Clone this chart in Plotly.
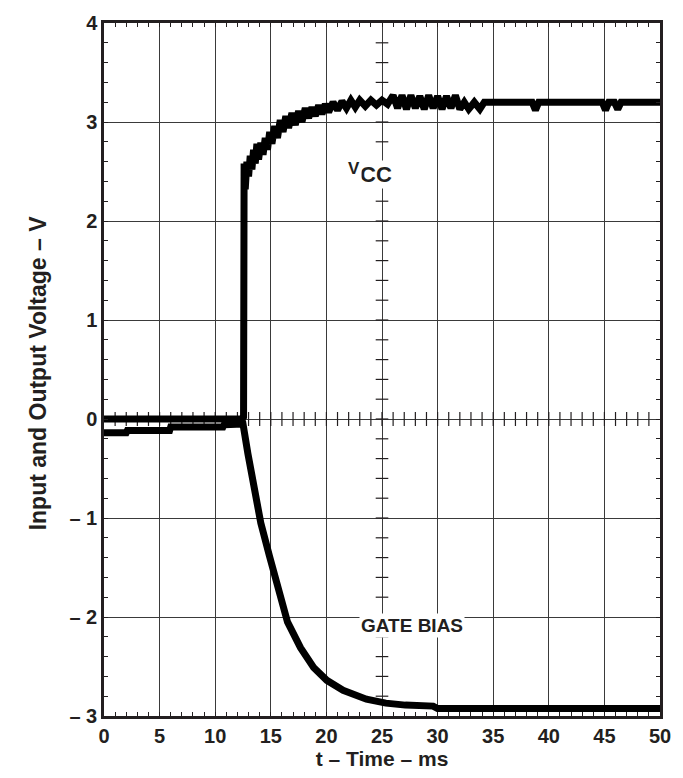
import plotly.graph_objects as go

# ---- data ----
vcc_t = [0, 12.4, 12.55, 12.6, 12.7, 12.85, 13.0, 13.15, 13.3, 13.45, 13.6, 13.75, 13.9,
         14.1, 14.3, 14.5, 14.7, 14.9, 15.1, 15.35, 15.6, 15.85, 16.1, 16.35, 16.6, 16.9,
         17.2, 17.5, 17.8, 18.1, 18.4, 18.7, 19.0, 19.3, 19.6, 19.9, 20.2, 20.6, 21.0,
         21.4, 21.8, 22.2, 22.6, 23.0, 23.5, 24.0, 24.5, 25.0, 25.5, 26.0, 26.4, 26.8,
         27.2, 27.6, 28.0, 28.4, 28.8, 29.2, 29.6, 30.0, 30.4, 30.8, 31.2, 31.6, 32.0,
         32.4, 32.8, 33.3, 33.8, 34.2, 38.5, 38.8, 39.1, 44.8, 45.1, 45.4, 45.9, 46.2,
         46.5, 50]
vcc_v = [0.0, 0.0, 0.02, 2.58, 2.32, 2.6, 2.45, 2.66, 2.52, 2.72, 2.58, 2.78, 2.62,
         2.79, 2.67, 2.84, 2.72, 2.9, 2.78, 2.96, 2.84, 3.02, 2.9, 3.06, 2.94, 3.09,
         2.97, 3.11, 3.0, 3.14, 3.04, 3.15, 3.06, 3.17, 3.08, 3.18, 3.1, 3.2, 3.12,
         3.21, 3.14, 3.22, 3.15, 3.22, 3.16, 3.22, 3.17, 3.22, 3.18, 3.27, 3.14, 3.27,
         3.13, 3.27, 3.14, 3.26, 3.13, 3.27, 3.14, 3.26, 3.13, 3.26, 3.14, 3.27, 3.13,
         3.2, 3.13, 3.2, 3.13, 3.2, 3.2, 3.12, 3.2, 3.2, 3.12, 3.2, 3.2, 3.13,
         3.2, 3.2]

gate_t = [0, 2.0, 2.1, 5.9, 6.0, 10.7, 10.8, 12.5, 12.94, 13.5, 14.1, 14.87, 15.6, 16.5,
          17.67, 18.85, 20.04, 21.5, 23.6, 25.35, 27.1, 28.9, 29.6, 30.0, 50]
gate_v = [-0.14, -0.14, -0.117, -0.117, -0.08, -0.08, -0.057, -0.05, -0.35, -0.72, -1.05,
          -1.38, -1.71, -2.05, -2.31, -2.51, -2.64, -2.74, -2.83, -2.87, -2.89, -2.90,
          -2.90, -2.925, -2.925]

x_ticks = [0, 5, 10, 15, 20, 25, 30, 35, 40, 45, 50]
y_ticks = [-3, -2, -1, 0, 1, 2, 3, 4]
y_ticktext = ["\u2013 3", "\u2013 2", "\u2013 1", "0", "1", "2", "3", "4"]

INK = "#231f20"
FONT = "Liberation Sans"

fig = go.Figure()

# graticule ticks on the centre cross (decoration)
cross_x = [i for i in range(1, 50)]
cross_y = [round(-3 + 0.2 * i, 2) for i in range(1, 35)]
fig.add_trace(go.Scatter(x=cross_x, y=[0] * len(cross_x), mode="markers",
                         marker=dict(symbol="line-ns", size=10,
                                     line=dict(color=INK, width=1.2)),
                         hoverinfo="skip", showlegend=False))
fig.add_trace(go.Scatter(x=[25] * len(cross_y), y=cross_y, mode="markers",
                         marker=dict(symbol="line-ew", size=9,
                                     line=dict(color=INK, width=1.2)),
                         hoverinfo="skip", showlegend=False))

fig.add_trace(go.Scatter(x=gate_t, y=gate_v, mode="lines",
                         line=dict(color="black", width=7), showlegend=False))
fig.add_trace(go.Scatter(x=vcc_t, y=vcc_v, mode="lines",
                         line=dict(color="black", width=7), showlegend=False))

# V_CC label: small raised V followed by larger CC (as in the reference)
fig.add_annotation(x=24.5, y=2.47, text="CC", showarrow=False, xanchor="center",
                   font=dict(family=FONT, size=22, color=INK, weight="bold"),
                   bgcolor="white", borderpad=1)
fig.add_annotation(x=22.5, y=2.53, text="V", showarrow=False, xanchor="center",
                   font=dict(family=FONT, size=17, color=INK, weight="bold"),
                   bgcolor="white", borderpad=1)
fig.add_annotation(x=27.66, y=-2.09, text="GATE BIAS", showarrow=False,
                   font=dict(family=FONT, size=19, color=INK, weight="bold"),
                   bgcolor="white")
fig.add_annotation(x=-0.145, y=0.495, xref="paper", yref="paper",
                   text="Input and Output Voltage \u2013 V", textangle=-90,
                   showarrow=False,
                   font=dict(family=FONT, size=23, color=INK, weight="bold"))

fig.update_layout(
    width=683, height=778,
    margin=dict(l=104, r=15, t=15, b=62),
    paper_bgcolor="white", plot_bgcolor="white",
    font=dict(family=FONT, color=INK),
    xaxis=dict(range=[0, 50], tickvals=x_ticks, showgrid=True, gridcolor="#3a3a3a",
               gridwidth=1, zeroline=False, showline=True, linecolor=INK, linewidth=2.5,
               mirror="allticks", ticks="inside", ticklen=0, tickcolor=INK,
               tickfont=dict(family=FONT, size=20, color=INK, weight="bold"),
               minor=dict(dtick=1, ticks="inside", ticklen=4, tickcolor=INK, showgrid=False),
               title=dict(text="t \u2013 Time \u2013 ms", standoff=4,
                          font=dict(family=FONT, size=21, color=INK, weight="bold"))),
    yaxis=dict(range=[-3, 4], tickvals=y_ticks, ticktext=y_ticktext, showgrid=True,
               gridcolor="#3a3a3a", gridwidth=1, zeroline=False, showline=True,
               linecolor=INK, linewidth=2.5, mirror="allticks", ticks="inside",
               ticklen=0, tickcolor=INK,
               tickfont=dict(family=FONT, size=20, color=INK, weight="bold"),
               minor=dict(dtick=0.2, ticks="inside", ticklen=4, tickcolor=INK, showgrid=False)),
)

fig.write_html(
    "out.html",
    config={"displayModeBar": False},
    post_script="document.body.style.margin='0px';document.body.style.overflow='hidden';"
                "document.documentElement.style.overflow='hidden';",
)
